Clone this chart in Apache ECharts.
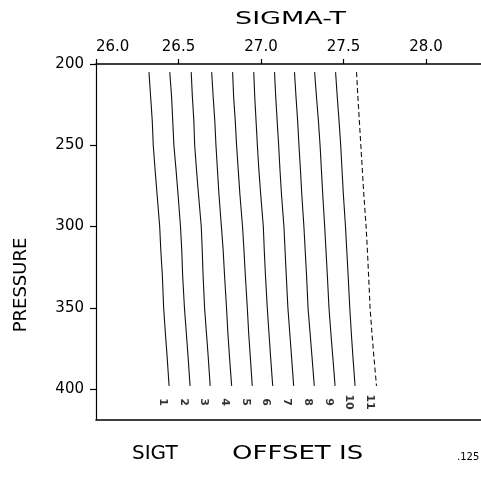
<!DOCTYPE html>
<html>
<head>
<meta charset="utf-8">
<script src="https://cdn.jsdelivr.net/npm/echarts@6/dist/echarts.min.js"></script>
<style>
html,body{margin:0;padding:0;background:#fff;}
#c{width:481px;height:482px;}
</style>
</head>
<body>
<div id="c"></div>
<script>
// ---- data ----
const pressures = [205, 220, 235, 250, 265, 280, 300, 315, 330, 350, 365, 380, 398];
const stationLabels = ['1','2','3','4','5','6','7','8','9','10','11'];
const OFFSET = 0.125; // sigma-t offset between successive profiles
const s1  = [26.321,26.331,26.341,26.347,26.358,26.370,26.386,26.393,26.402,26.410,26.420,26.431,26.443];
const s2  = [26.322,26.333,26.340,26.347,26.360,26.372,26.387,26.395,26.400,26.411,26.422,26.433,26.445];
const s3  = [26.327,26.334,26.343,26.348,26.359,26.371,26.388,26.394,26.399,26.408,26.419,26.430,26.442];
const s4  = [26.326,26.335,26.345,26.352,26.361,26.370,26.385,26.396,26.404,26.416,26.424,26.434,26.447];
const s5  = [26.328,26.334,26.344,26.352,26.362,26.372,26.388,26.397,26.405,26.417,26.425,26.435,26.447];
const s6  = [26.331,26.337,26.345,26.353,26.362,26.373,26.389,26.395,26.402,26.413,26.423,26.433,26.446];
const s7  = [26.332,26.339,26.348,26.357,26.365,26.374,26.389,26.396,26.403,26.413,26.424,26.435,26.448];
const s8  = [26.328,26.337,26.347,26.355,26.364,26.372,26.385,26.393,26.401,26.410,26.422,26.434,26.448];
const s9  = [26.325,26.336,26.348,26.358,26.366,26.374,26.386,26.394,26.402,26.412,26.423,26.435,26.449];
const s10 = [26.327,26.337,26.348,26.358,26.366,26.374,26.387,26.395,26.403,26.413,26.422,26.432,26.445];
const s11 = [26.329,26.337,26.346,26.355,26.364,26.373,26.387,26.395,26.402,26.411,26.422,26.434,26.450];
const xTicks = ['26.0','26.5','27.0','27.5','28.0'];
const xTickValues = [26, 26.5, 27, 27.5, 28];
const yTicks = [200, 250, 300, 350, 400];

// ---- build ----
const stations = [s1,s2,s3,s4,s5,s6,s7,s8,s9,s10,s11];
const FONT = 'DejaVu Sans';
const LABEL_P = 408;      // pressure level of station number labels
const LABEL_SHIFT = 0.04; // label sits slightly left of line end

const series = stations.map((s, i) => ({
  type: 'line',
  showSymbol: false,
  silent: true,
  animation: false,
  lineStyle: { color: '#111', width: 1.1, type: i === stations.length - 1 ? [5, 3] : 'solid' },
  data: s.map((v, j) => [+(v + i * OFFSET).toFixed(4), pressures[j]])
}));

series.push({
  type: 'scatter',
  symbolSize: 0,
  animation: false,
  silent: true,
  data: stations.map((s, i) => ({
    value: [s[s.length - 1] + i * OFFSET - LABEL_SHIFT, LABEL_P],
    name: stationLabels[i]
  })),
  label: {
    show: true,
    position: 'inside',
    formatter: p => p.name,
    rotate: -90,
    color: '#000',
    fontFamily: FONT,
    fontWeight: 'bold',
    fontSize: 11
  }
});

const chart = echarts.init(document.getElementById('c'), null, { renderer: 'canvas' });
chart.setOption({
  backgroundColor: '#fff',
  animation: false,
  grid: { left: 96, top: 64, right: 0, bottom: 62 },
  xAxis: [{
    type: 'value', position: 'top', min: 26, max: 28.3333, interval: 0.5,
    axisLine: { show: true, lineStyle: { color: '#000', width: 1.6 } },
    axisTick: { show: true, length: 5, customValues: xTickValues, lineStyle: { color: '#000', width: 1.2 } },
    splitLine: { show: false },
    axisLabel: {
      color: '#000', fontFamily: FONT, fontSize: 15, margin: 9,
      customValues: xTickValues, alignMinLabel: 'left',
      formatter: v => { const k = xTickValues.indexOf(v); return k >= 0 ? xTicks[k] : ''; }
    }
  }, {
    type: 'value', position: 'bottom', min: 26, max: 28.3333,
    axisLine: { show: true, lineStyle: { color: '#000', width: 1.6 } },
    axisTick: { show: false }, axisLabel: { show: false }, splitLine: { show: false }
  }],
  yAxis: {
    type: 'value', inverse: true, min: 200, max: 419, interval: 50,
    axisLine: { show: true, lineStyle: { color: '#000', width: 1.2 } },
    axisTick: { show: true, length: 6, customValues: yTicks, lineStyle: { color: '#000', width: 1.2 } },
    splitLine: { show: false },
    axisLabel: {
      color: '#000', fontFamily: FONT, fontSize: 15, margin: 12,
      customValues: yTicks,
      formatter: v => String(v)
    }
  },
  graphic: [
    { type: 'text', left: 235, top: 10, scaleX: 1.5,
      style: { text: 'SIGMA-T', font: '18px "DejaVu Sans"', fill: '#000' } },
    { type: 'text', x: 12, y: 285, rotation: Math.PI / 2,
      style: { text: 'PRESSURE', font: '18px "DejaVu Sans"', fill: '#000', align: 'center', verticalAlign: 'top' } },
    { type: 'text', left: 132, top: 444,
      style: { text: 'SIGT', font: '20px "DejaVu Sans"', fill: '#000' } },
    { type: 'text', left: 232, top: 444, scaleX: 1.3,
      style: { text: 'OFFSET IS', font: '20px "DejaVu Sans"', fill: '#000' } },
    { type: 'text', left: 457, top: 452,
      style: { text: '.125', font: '10px "DejaVu Sans"', fill: '#000' } }
  ],
  series: series
});
</script>
</body>
</html>
